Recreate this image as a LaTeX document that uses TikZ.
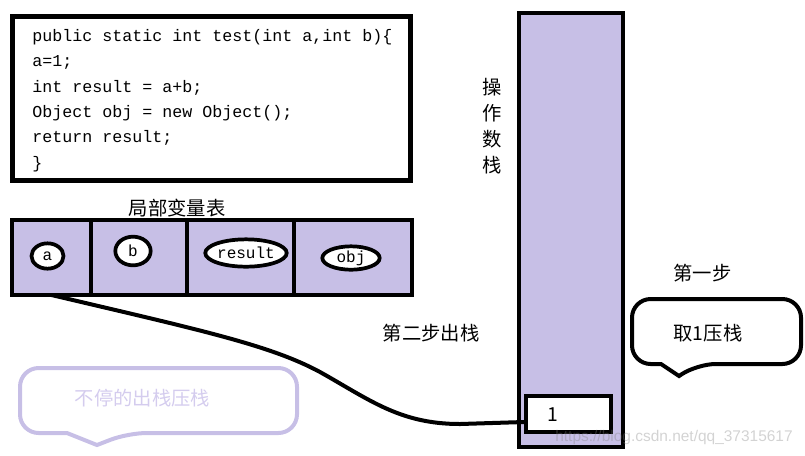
\documentclass[tikz,border=0pt]{standalone}
\usepackage{fontspec}
\setmainfont{Noto Sans CJK SC}
\setmonofont{Liberation Mono}
\newfontfamily\markfont{Liberation Sans}
\usetikzlibrary{shapes.geometric, positioning, calc}
\definecolor{slotfill}{RGB}{199,191,230}
\definecolor{softtext}{RGB}{212,204,238}

\begin{document}
\begin{tikzpicture}[
        x=0.75pt, y=-0.75pt,
        node distance=0pt,
        codebox/.style={rectangle, draw=black, line width=3.5pt, minimum width=298.5pt, minimum height=123pt},
        codetext/.style={anchor=north west, align=left, inner sep=0pt, font=\ttfamily\fontsize{12.5}{19}\selectfont},
        cell/.style={rectangle, draw=black, line width=3pt, fill=slotfill, outer sep=0pt, minimum height=56.25pt},
        var/.style={ellipse, draw=black, line width=2.8pt, fill=white, inner sep=0pt, font=\ttfamily\fontsize{12}{12}\selectfont},
        stackbox/.style={rectangle, draw=black, line width=3pt, fill=slotfill, minimum width=78pt, minimum height=325.5pt},
        slot/.style={rectangle, draw=black, line width=3pt, fill=white, minimum width=63.75pt, minimum height=27pt},
        cjk/.style={inner sep=0pt, font=\fontsize{14.5}{19.5}\selectfont},
        darkcallout/.style={draw=black, line width=3pt},
        softcallout/.style={draw=slotfill, line width=3pt},
        flow/.style={draw=black, line width=3pt}
    ]
    \useasboundingbox (0,0) rectangle (805,455);

    % Code
    \node[codebox] (codeframe) at (211.5,98.5) {};
    \node[codetext] (code) at (32,29) {public static int test(int a,int b)\{\\
a=1;\\
int result = a+b;\\
Object obj = new Object();\\
return result;\\
\}};

    % Local variable table
    \node[cell, minimum width=59.25pt] (cella) at (51.5,257.5) {};
    \node[cell, minimum width=72pt] (cellb) [right=of cella] {};
    \node[cell, minimum width=80.25pt] (cellresult) [right=of cellb] {};
    \node[cell, minimum width=88.5pt] (cellobj) [right=of cellresult] {};
    \node[cjk] (tabletitle) at (177,208) {局部变量表};

    \node[var, minimum width=24pt, minimum height=19pt] (vara) at (47.5,256) {a};
    \node[var, minimum width=26.5pt, minimum height=21.5pt] (varb) at (133,251) {b};
    \node[var, minimum width=58pt, minimum height=20.5pt] (varresult) at (246,253) {result};
    \node[var, minimum width=43pt, minimum height=17.5pt] (varobj) at (351,258) {obj};

    % Operand stack
    \node[stackbox] (stack) at (571,230) {};
    \node[cjk, align=center] (stacktitle) at (492.5,126) {操\\作\\数\\栈};
    \node[slot] (top) at (568.5,414) {};
    \node[cjk] (one) at ($(top.center)+(-15.5,1)$) {1};

    % Step labels
    \node[cjk] (steptwo) at (431,333) {第二步出栈};
    \node[cjk] (stepone) at (702.5,273) {第一步};

    % Callouts
    \draw[darkcallout] (679,376) -- (661,364) [rounded corners=14pt] -- (632,364) -- (632,299) -- (801,299) -- (801,364) -- (697,364) [sharp corners] -- cycle;
    \node[cjk] (push) at (708,333) {取1压栈};
    \draw[softcallout] (97,445) -- (67,433) [rounded corners=14pt] -- (20,433) -- (20,368) -- (297,368) -- (297,433) -- (128,433) [sharp corners] -- cycle;
    \node[cjk, text=softtext] (loop) at (142.5,398) {不停的出栈压栈};

    % Connections
    \draw[flow] (cella.south) .. controls (200,330) and (270,345) .. (320,372)
        .. controls (370,400) and (400,424) .. (460,424) -- ($(top.west)+(0,8)$);

    \node[font=\markfont\fontsize{11.6}{12}\selectfont, text=gray, opacity=0.35, inner sep=0pt] (mark) at (674,437) {https://blog.csdn.net/qq\_37315617};
\end{tikzpicture}
\end{document}
